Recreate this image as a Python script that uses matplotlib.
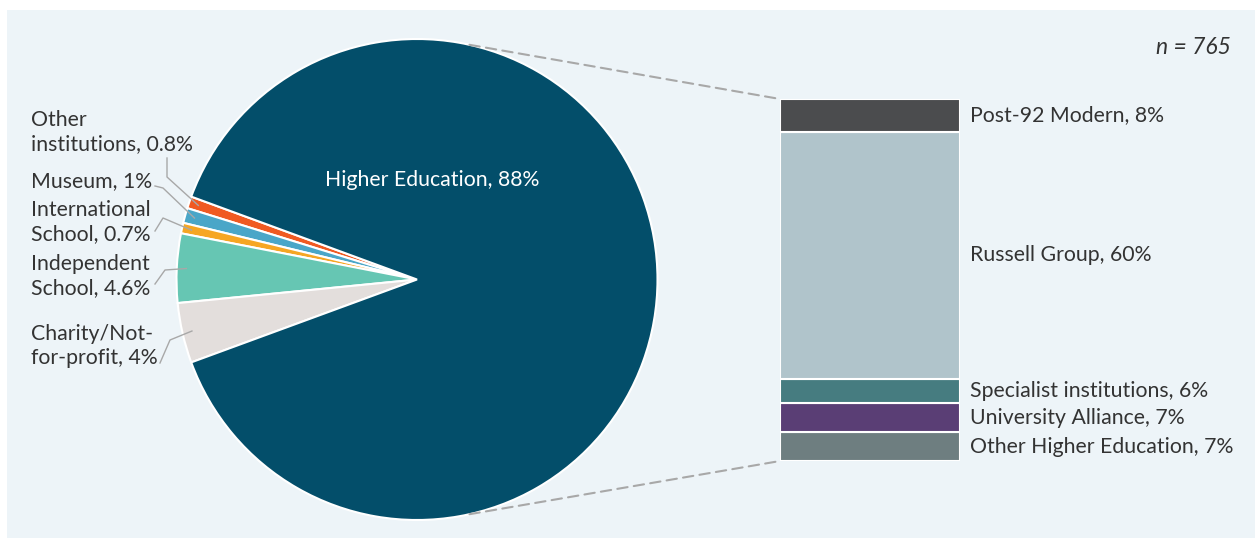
import numpy as np
import matplotlib.pyplot as plt
from matplotlib.patches import Rectangle, ConnectionPatch

plt.rcParams['font.family'] = ['Lato', 'DejaVu Sans']

# sector split (pie), order runs anticlockwise from the top of the small wedge
sectors = ['Other\ninstitutions, 0.8%', 'Museum, 1%', 'International\nSchool, 0.7%',
           'Independent\nSchool, 4.6%', 'Charity/Not-\nfor-profit, 4%', 'Higher Education, 88%']
sector_pct = [0.8, 1, 0.7, 4.6, 4, 88]
sector_colors = ['#F05A22', '#4AA6C8', '#F6A623', '#66C6B3', '#E3DEDC', '#034E6A']

# breakdown of higher education (bar), bottom to top
he_groups = ['Other Higher Education, 7%', 'University Alliance, 7%',
             'Specialist institutions, 6%', 'Russell Group, 60%', 'Post-92 Modern, 8%']
he_pct = [7, 7, 6, 60, 8]
he_colors = ['#6E7E80', '#5A3E75', '#467C80', '#B0C4CB', '#4B4C4E']

W, H = 1255, 538
bg = '#EDF4F8'
txt = '#333333'
fs = 15.3

fig = plt.figure(figsize=(W / 100, H / 100), dpi=100)
fig.patch.set_facecolor('white')
ax = fig.add_axes([0, 0, 1, 1])
ax.set_xlim(0, W)
ax.set_ylim(0, H)
ax.axis('off')
ax.add_patch(Rectangle((7, 0), W - 7, H - 10, facecolor=bg, edgecolor='none', zorder=0))

cx, cy, r = 417, H - 279.5, 240.5
small = sum(sector_pct[:-1])
start = 180 - small / sum(sector_pct) * 360 / 2
wedges, _ = ax.pie(sector_pct, colors=sector_colors, center=(cx, cy), radius=r,
                   startangle=start, counterclock=True,
                   wedgeprops=dict(edgecolor='white', linewidth=1.5))
ax.set_xlim(0, W)
ax.set_ylim(0, H)
ax.set_aspect('auto')

ax.text(432, H - 180, sectors[-1], color='white', fontsize=fs, ha='center', va='center')

# labels on the left with small elbow leaders
label_pos = [(31, 132.5), (31, 181), (31, 222.5), (31, 276), (31, 345.5)]
elbows = [[(167, 158), (167, 177)], [(155, 186), (163, 188)], [(155, 231), (163, 218)],
          [(155, 284), (165, 270)], [(160, 363), (170, 340)]]
for w, lab, (tx, ty), el in zip(wedges[:-1], sectors[:-1], label_pos, elbows):
    ang = np.deg2rad((w.theta1 + w.theta2) / 2)
    px, py = cx + 0.96 * r * np.cos(ang), cy + 0.96 * r * np.sin(ang)
    xs = [p[0] for p in el] + [px]
    ys = [H - p[1] for p in el] + [py]
    ax.plot(xs, ys, color='#A8A8A8', lw=1, zorder=3)
    ax.text(tx, H - ty, lab, color=txt, fontsize=fs, ha='left', va='center', linespacing=1.25)

# stacked bar for the higher education breakdown
bx = fig.add_axes([780 / W, 77 / H, 180 / W, 362 / H])
bx.set_xlim(0, 1)
bx.set_ylim(0, sum(he_pct))
bx.axis('off')
bottoms = np.concatenate([[0], np.cumsum(he_pct)[:-1]])
bx.bar(0.5, he_pct, width=1, bottom=bottoms, color=he_colors, edgecolor='white', linewidth=1.5)
for lab, b, v in zip(he_groups, bottoms, he_pct):
    bx.text(1.055, b + v / 2, lab, color=txt, fontsize=fs, ha='left', va='center',
            transform=bx.transData, clip_on=False)

# dashed connectors from pie edge to bar corners
for a, yb in [(77.4, sum(he_pct)), (-77.4, 0)]:
    p = (cx + r * np.cos(np.deg2rad(a)), cy + r * np.sin(np.deg2rad(a)))
    con = ConnectionPatch(xyA=p, coordsA=ax.transData, xyB=(0, yb), coordsB=bx.transData,
                          color='#A8A8A8', lw=1.5, linestyle=(0, (5, 3)))
    fig.add_artist(con)

ax.text(1231, H - 47, 'n = 765', color=txt, fontsize=16.5, ha='right', va='center', style='italic')

fig.savefig('out.png', dpi=100, facecolor='white')
